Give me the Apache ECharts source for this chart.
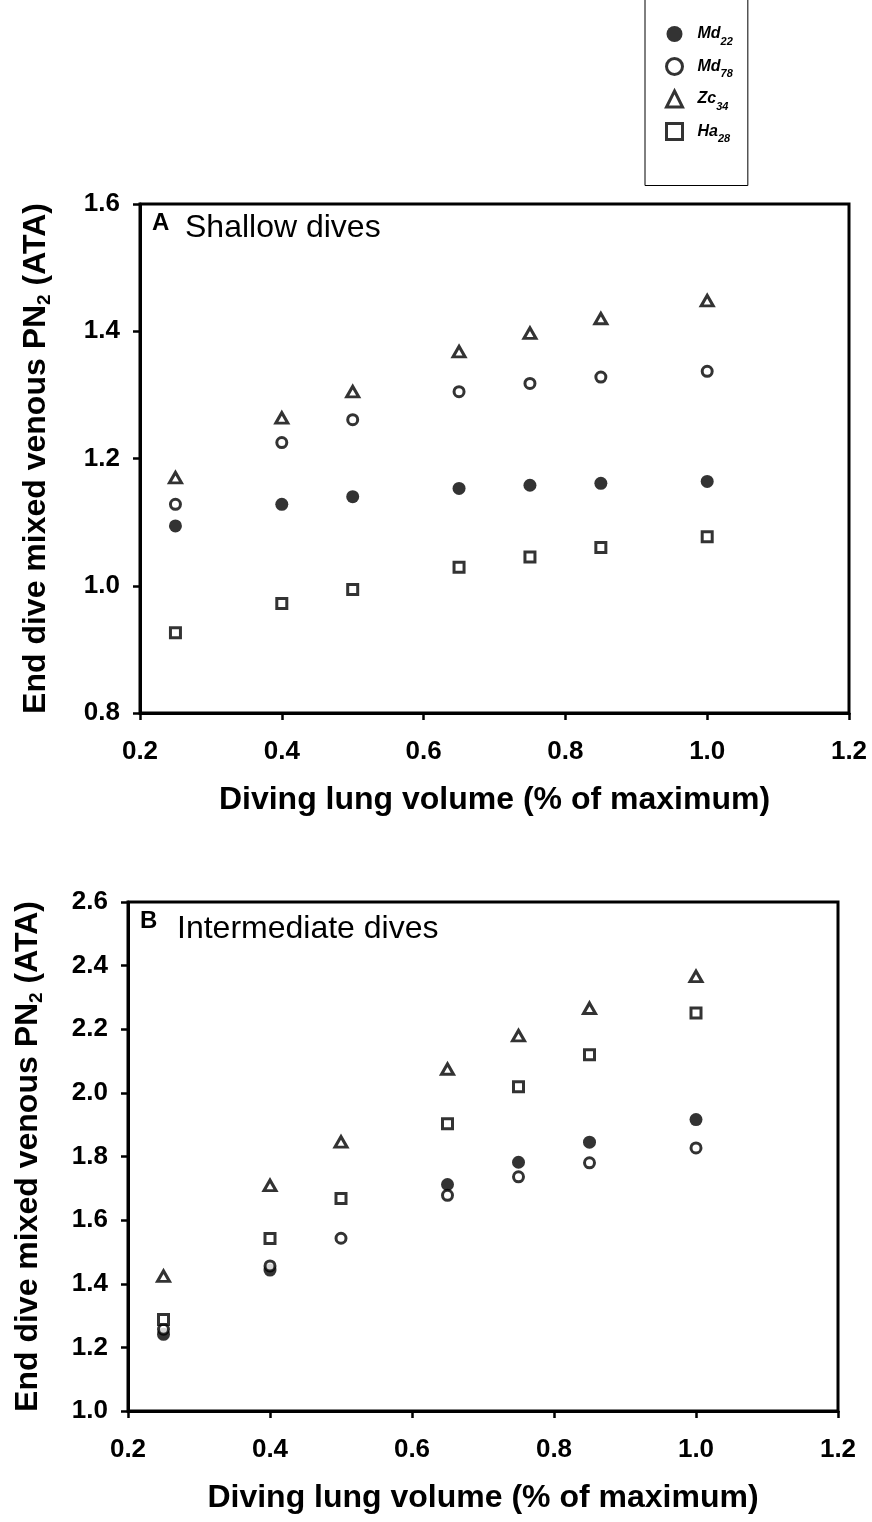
<!DOCTYPE html>
<html>
<head>
<meta charset="utf-8">
<script src="https://cdn.jsdelivr.net/npm/echarts@6/dist/echarts.min.js"></script>
<style>
  html, body { margin: 0; padding: 0; background: #fff; }
  #chart { width: 872px; height: 1522px; }
</style>
</head>
<body>
<div id="chart"></div>
<script>
// Diving lung volume (fraction of maximum)
const volume = [0.25, 0.4, 0.5, 0.65, 0.75, 0.85, 1.0];

// Panel A – shallow dives, end-dive mixed venous PN2 (ATA)
const shallowMd22 = [1.094, 1.128, 1.140, 1.153, 1.158, 1.161, 1.164];
const shallowMd78 = [1.128, 1.225, 1.261, 1.305, 1.318, 1.328, 1.337];
const shallowZc34 = [1.170, 1.264, 1.305, 1.368, 1.397, 1.420, 1.448];
const shallowHa28 = [0.926, 0.972, 0.994, 1.029, 1.045, 1.060, 1.077];

// Panel B – intermediate dives (Md22 at 0.5 is not shown)
const interMd22 = [1.241, 1.443, null, 1.712, 1.782, 1.845, 1.916];
const interMd78 = [1.257, 1.456, 1.543, 1.678, 1.736, 1.780, 1.827];
const interZc34 = [1.424, 1.709, 1.846, 2.075, 2.180, 2.266, 2.366];
const interHa28 = [1.288, 1.542, 1.668, 1.903, 2.019, 2.120, 2.251];

// Axis ranges
const xRange = { min: 0.2, max: 1.2, interval: 0.2 };
const yRangeA = { min: 0.8, max: 1.6, interval: 0.2 };
const yRangeB = { min: 1.0, max: 2.6, interval: 0.2 };

// Legend labels: [name, species, subscript]
const animals = [
  ['Md22', 'Md', '22'],
  ['Md78', 'Md', '78'],
  ['Zc34', 'Zc', '34'],
  ['Ha28', 'Ha', '28']
];

const FONT = "'Liberation Sans', Arial, Helvetica, sans-serif";

const markerStyles = {
  Md22: { symbol: 'circle', symbolSize: 13, itemStyle: { color: '#000', borderWidth: 0 } },
  Md78: { symbol: 'circle', symbolSize: 10, itemStyle: { color: '#fff', borderColor: '#000', borderWidth: 3 } },
  Zc34: { symbol: 'triangle', symbolSize: [12, 10.5], itemStyle: { color: '#fff', borderColor: '#000', borderWidth: 3 } },
  Ha28: { symbol: 'rect', symbolSize: 10, itemStyle: { color: '#fff', borderColor: '#000', borderWidth: 3 } }
};

function pairs(values) {
  return volume.map((v, i) => [v, values[i]]).filter(p => p[1] !== null);
}

function scatter(name, values, axisIndex) {
  const s = markerStyles[name];
  return {
    type: 'scatter',
    name: name,
    xAxisIndex: axisIndex,
    yAxisIndex: axisIndex,
    symbol: s.symbol,
    symbolSize: s.symbolSize,
    itemStyle: s.itemStyle,
    emphasis: { disabled: true },
    data: pairs(values)
  };
}

function xAxisDef(gridIndex) {
  return {
    type: 'value',
    gridIndex: gridIndex,
    min: xRange.min, max: xRange.max, interval: xRange.interval,
    name: 'Diving lung volume (% of maximum)',
    nameLocation: 'middle',
    nameGap: 71,
    nameTextStyle: { fontFamily: FONT, fontSize: 32, fontWeight: 'bold', color: '#000', verticalAlign: 'top' },
    axisLine: { show: true, onZero: false, lineStyle: { color: '#000', width: 3 } },
    axisTick: { show: true, inside: false, length: 7, lineStyle: { color: '#000', width: 2.5 } },
    axisLabel: { margin: 26, fontFamily: FONT, fontSize: 26, fontWeight: 'bold', color: '#000',
                 formatter: v => v.toFixed(1) },
    splitLine: { show: false }
  };
}

function yAxisDef(gridIndex, range, gap) {
  return {
    type: 'value',
    gridIndex: gridIndex,
    min: range.min, max: range.max, interval: range.interval,
    name: 'End dive mixed venous PN{sub|2} (ATA)',
    nameLocation: 'middle',
    nameRotate: 90,
    nameGap: gap,
    nameTextStyle: {
      fontFamily: FONT, fontSize: 32, fontWeight: 'bold', color: '#000',
      rich: {
        sub: { fontFamily: FONT, fontSize: 19, fontWeight: 'bold', color: '#000', padding: [16, 0, 0, 0] }
      }
    },
    axisLine: { show: true, onZero: false, lineStyle: { color: '#000', width: 3 } },
    axisTick: { show: true, inside: false, length: 7, lineStyle: { color: '#000', width: 2.5 } },
    axisLabel: { margin: 20, fontFamily: FONT, fontSize: 26, fontWeight: 'bold', color: '#000',
                 formatter: v => v.toFixed(1) },
    splitLine: { show: false }
  };
}

const chart = echarts.init(document.getElementById('chart'), null, { renderer: 'canvas' });

chart.setOption({
  animation: false,
  backgroundColor: '#fff',
  grid: [
    { left: 140, top: 204, width: 709, height: 509, show: true, borderColor: '#000', borderWidth: 3, backgroundColor: 'transparent' },
    { left: 128, top: 902, width: 710, height: 509, show: true, borderColor: '#000', borderWidth: 3, backgroundColor: 'transparent' }
  ],
  xAxis: [xAxisDef(0), xAxisDef(1)],
  yAxis: [yAxisDef(0, yRangeA, 86), yAxisDef(1, yRangeB, 82)],
  legend: {
    orient: 'vertical',
    left: 645,
    top: -20,
    padding: [46, 15, 41, 20],
    itemWidth: 16,
    itemHeight: 16,
    itemGap: 10,
    borderColor: '#000',
    borderWidth: 1,
    backgroundColor: '#fff',
    selectedMode: false,
    itemStyle: { borderWidth: 3 },
    data: animals.map(a => a[0]),
    formatter: name => {
      const a = animals.find(e => e[0] === name);
      return '{m|' + a[1] + '}{s|' + a[2] + '}';
    },
    textStyle: {
      rich: {
        m: { fontFamily: FONT, fontSize: 16, fontWeight: 'bold', fontStyle: 'italic', color: '#000', padding: [0, 0, 0, 10] },
        s: { fontFamily: FONT, fontSize: 11, fontWeight: 'bold', fontStyle: 'italic', color: '#000', padding: [15, 0, 0, 0] }
      }
    }
  },
  graphic: [
    { type: 'text', left: 152, top: 211, style: { text: 'A', font: "bold 24px " + FONT, fill: '#000' } },
    { type: 'text', left: 185, top: 212, style: { text: 'Shallow dives', font: "32px " + FONT, fill: '#000' } },
    { type: 'text', left: 140, top: 909, style: { text: 'B', font: "bold 24px " + FONT, fill: '#000' } },
    { type: 'text', left: 177, top: 913, style: { text: 'Intermediate dives', font: "32px " + FONT, fill: '#000' } }
  ],
  series: [
    scatter('Md22', shallowMd22, 0),
    scatter('Md78', shallowMd78, 0),
    scatter('Zc34', shallowZc34, 0),
    scatter('Ha28', shallowHa28, 0),
    scatter('Md22', interMd22, 1),
    scatter('Md78', interMd78, 1),
    scatter('Zc34', interZc34, 1),
    scatter('Ha28', interHa28, 1)
  ]
});
</script>
</body>
</html>
